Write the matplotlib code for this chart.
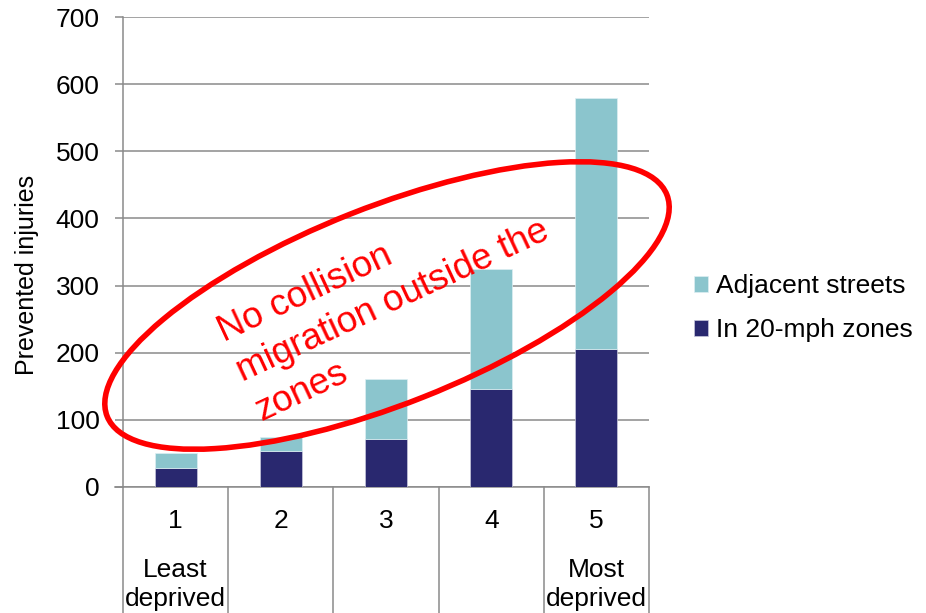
import matplotlib
matplotlib.use("Agg")
import matplotlib.pyplot as plt
from matplotlib.patches import Ellipse
from matplotlib.transforms import blended_transform_factory
import numpy as np

plt.rcParams['font.family'] = ['Liberation Sans', 'DejaVu Sans']

# Deprivation quintiles and prevented injuries
quintiles = ["1", "2", "3", "4", "5"]
quintile_notes = ["Least\ndeprived", "", "", "", "Most\ndeprived"]
in_zones = [28, 54, 72, 146, 206]
adjacent_streets = [23, 20, 89, 178, 374]
series_names = ["In 20-mph zones", "Adjacent streets"]
y_ticks = [0, 100, 200, 300, 400, 500, 600, 700]

DARK = "#29286F"
LIGHT = "#8BC5CD"
GRID = "#8A8A8A"
RED = "#FF0000"

W, H = 926, 613
fig = plt.figure(figsize=(W / 100, H / 100), dpi=100)
ax = fig.add_axes([123 / W, 1 - 487 / H, (649 - 123) / W, (487 - 17) / H])

x = np.arange(len(quintiles))
b1 = ax.bar(x, in_zones, width=0.4, color=DARK, edgecolor="#C8C8DC",
            linewidth=0.5, zorder=3, label=series_names[0])
b2 = ax.bar(x, adjacent_streets, width=0.4, bottom=in_zones, color=LIGHT,
            edgecolor="#DDEFF2", linewidth=0.5, zorder=3, label=series_names[1])

ax.set_xlim(-0.5, len(quintiles) - 0.5)
ax.set_ylim(0, 700)
ax.set_yticks(y_ticks)
ax.set_yticklabels([str(v) for v in y_ticks], fontsize=19)
ax.yaxis.grid(True, color=GRID, linewidth=1.1, zorder=0)
ax.set_axisbelow(True)
ax.tick_params(axis='y', length=6, width=1.1, color=GRID, pad=11)
ax.set_xticks([])

for s in ["top", "right"]:
    ax.spines[s].set_visible(False)
for s in ["left", "bottom"]:
    ax.spines[s].set_color(GRID)
    ax.spines[s].set_linewidth(1.1)

# Category table below the axis
trans = blended_transform_factory(ax.transData, ax.transAxes)
for b in np.arange(-0.5, len(quintiles), 1.0):
    ax.plot([b, b], [0, -0.35], transform=trans, color=GRID, lw=1.1,
            clip_on=False, zorder=1)
ax.plot([-0.015, 0], [0, 0], transform=ax.transAxes, color=GRID, lw=1.1,
        clip_on=False)
for xi, lab, note in zip(x, quintiles, quintile_notes):
    ax.text(xi, -0.072, lab, transform=trans, ha="center", va="center", fontsize=19)
    if note:
        ax.text(xi, -0.207, note, transform=trans, ha="center", va="center",
                fontsize=19, linespacing=1.25)

fig.text(27 / W, 1 - 275 / H, "Prevented injuries", rotation=90,
         ha="center", va="center", fontsize=18)

# Legend
leg = fig.legend(handles=[b2, b1], labels=[series_names[1], series_names[0]],
                 loc="center left", bbox_to_anchor=(683 / W, 1 - 308 / H),
                 frameon=False, fontsize=19, handlelength=0.55, handleheight=0.55,
                 handletextpad=0.3, labelspacing=0.75, borderaxespad=0)

# Annotation overlay in pixel units
ov = fig.add_axes([0, 0, 1, 1], zorder=10)
ov.set_xlim(0, W)
ov.set_ylim(H, 0)
ov.axis("off")
ov.patch.set_alpha(0)
ov.add_patch(Ellipse((387, 305.5), 602, 197, angle=-21.6, fill=False,
                     edgecolor=RED, linewidth=4.0))
ov.text(393, 301, "No collision\nmigration outside the\nzones", color=RED,
        fontsize=26.5, rotation=25, rotation_mode="anchor", ha="center",
        va="center", multialignment="left", linespacing=1.32)

fig.savefig("out.png", dpi=100)
